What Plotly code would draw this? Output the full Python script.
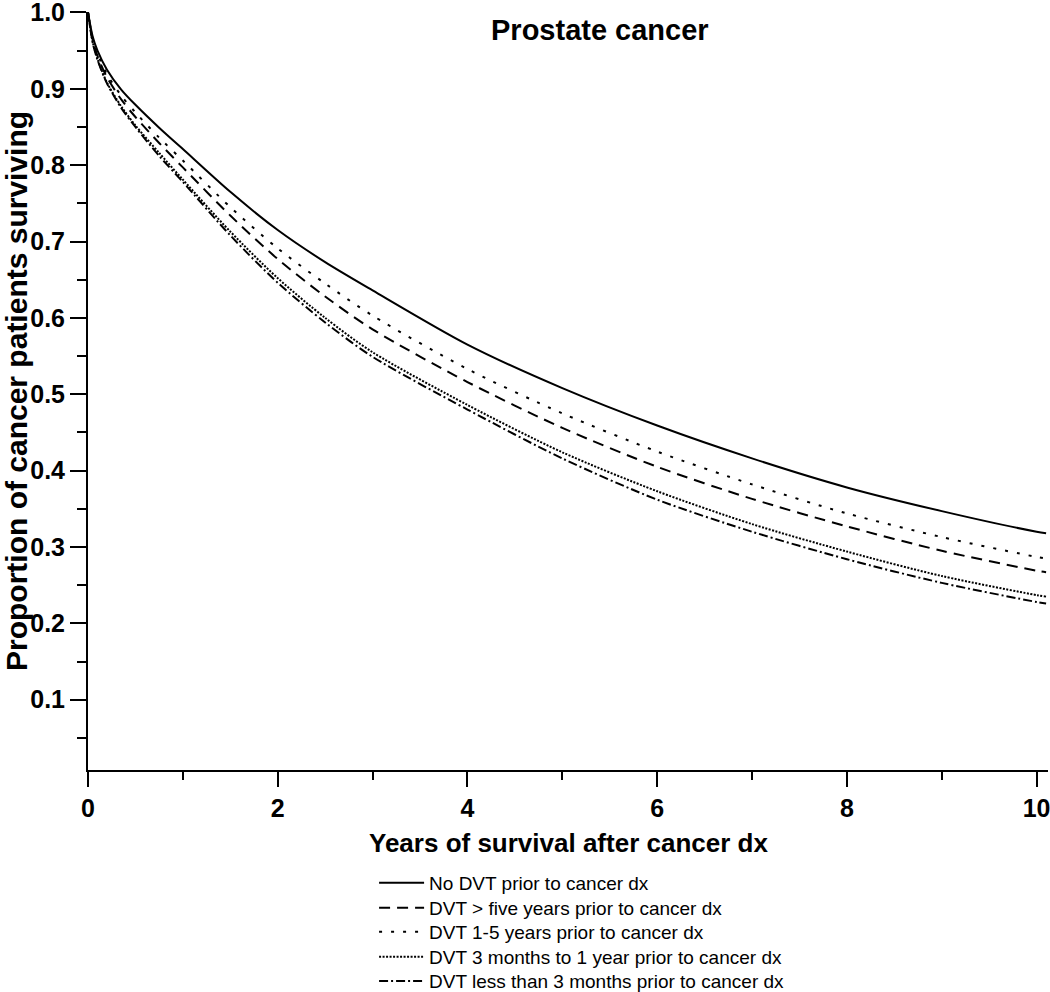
import plotly.graph_objects as go

years = [0, 0.05, 0.1, 0.2, 0.35, 0.5, 0.75, 1, 1.5, 2, 2.5, 3, 4, 5, 6, 7, 8, 9, 10, 10.1]

no_dvt = [1.0, 0.968, 0.950, 0.925, 0.899, 0.879, 0.849, 0.821, 0.765, 0.715, 0.673, 0.636, 0.565, 0.508, 0.459, 0.416, 0.378, 0.347, 0.320, 0.318]
dvt_gt5 = [1.0, 0.964, 0.943, 0.915, 0.886, 0.863, 0.829, 0.797, 0.734, 0.677, 0.628, 0.585, 0.516, 0.456, 0.405, 0.363, 0.327, 0.295, 0.269, 0.267]
dvt_1_5 = [1.0, 0.965, 0.946, 0.919, 0.891, 0.869, 0.836, 0.806, 0.745, 0.691, 0.645, 0.603, 0.533, 0.475, 0.425, 0.382, 0.344, 0.313, 0.287, 0.285]
dvt_3m_1y = [1.0, 0.961, 0.939, 0.908, 0.877, 0.852, 0.816, 0.781, 0.713, 0.652, 0.600, 0.555, 0.486, 0.424, 0.373, 0.330, 0.294, 0.262, 0.237, 0.235]
dvt_lt3m = [1.0, 0.960, 0.938, 0.907, 0.875, 0.850, 0.812, 0.778, 0.708, 0.646, 0.594, 0.549, 0.480, 0.416, 0.362, 0.320, 0.284, 0.253, 0.228, 0.226]

series_names = [
    "No DVT prior to cancer dx",
    "DVT > five years prior to cancer dx",
    "DVT 1-5 years prior to cancer dx",
    "DVT 3 months to 1 year prior to cancer dx",
    "DVT less than 3 months prior to cancer dx",
]
series_values = [no_dvt, dvt_gt5, dvt_1_5, dvt_3m_1y, dvt_lt3m]
dashes = ["solid", "11px,7px", "3px,9px", "2px,1.5px", "9px,3px,2px,3px"]
legend_ids = ["legend", "legend2", "legend3", "legend4", "legend5"]
legend_rows_y = [-0.149, -0.182, -0.2137, -0.2467, -0.2785]

FONT = "Liberation Sans, Arial, sans-serif"

fig = go.Figure()
for name, vals, dash, lid in zip(series_names, series_values, dashes, legend_ids):
    fig.add_trace(go.Scatter(
        x=years, y=vals, mode="lines", name=name, legend=lid,
        line=dict(color="black", width=2, dash=dash, shape="spline", smoothing=0.8),
    ))

legend_layout = {}
for lid, ly in zip(legend_ids, legend_rows_y):
    legend_layout[lid] = dict(
        x=0.298, xanchor="left", y=ly, yanchor="middle",
        font=dict(family=FONT, size=19, color="black"),
        bgcolor="rgba(0,0,0,0)", borderwidth=0, itemwidth=45,
    )

fig.update_layout(
    width=1050, height=992,
    margin=dict(l=88, r=2, t=12, b=222, autoexpand=False),
    plot_bgcolor="white", paper_bgcolor="white",
    font=dict(family=FONT, color="black"),
    showlegend=True,
    xaxis=dict(
        range=[0, 10.12], showgrid=False, zeroline=False, automargin=False,
        showline=True, linecolor="black", linewidth=2,
        ticks="outside", ticklen=15, tickwidth=2, tickcolor="black",
        tick0=0, dtick=2, ticklabeloverflow="allow",
        minor=dict(ticks="outside", ticklen=8, tickwidth=2, tickcolor="black", dtick=1, showgrid=False),
        tickfont=dict(family=FONT, size=25, color="black", weight="bold"),
    ),
    yaxis=dict(
        range=[0.008, 1.0005], showgrid=False, zeroline=False, automargin=False,
        showline=True, linecolor="black", linewidth=2,
        ticks="outside", ticklen=16, tickwidth=2, tickcolor="black",
        tick0=0, dtick=0.1, tickformat=".1f", ticklabeloverflow="allow",
        minor=dict(ticks="outside", ticklen=9, tickwidth=2, tickcolor="black", dtick=0.05, showgrid=False),
        tickfont=dict(family=FONT, size=25, color="black", weight="bold"),
    ),
    annotations=[
        dict(text="Prostate cancer", x=0.533, y=0.976, xref="paper", yref="paper",
             xanchor="center", yanchor="middle", showarrow=False,
             font=dict(family=FONT, size=29, color="black", weight="bold")),
        dict(text="Years of survival after cancer dx", x=0.5, y=-0.0963, xref="paper", yref="paper",
             xanchor="center", yanchor="middle", showarrow=False,
             font=dict(family=FONT, size=26, color="black", weight="bold")),
        dict(text="Proportion of cancer patients surviving", x=0, xshift=-72, y=0.5,
             xref="paper", yref="paper", xanchor="center", yanchor="middle",
             textangle=-90, showarrow=False,
             font=dict(family=FONT, size=30, color="black", weight="bold")),
    ],
    **legend_layout,
)

fig.write_html("out.html", config={"displayModeBar": False},
               post_script="document.body.style.margin='0px';")
